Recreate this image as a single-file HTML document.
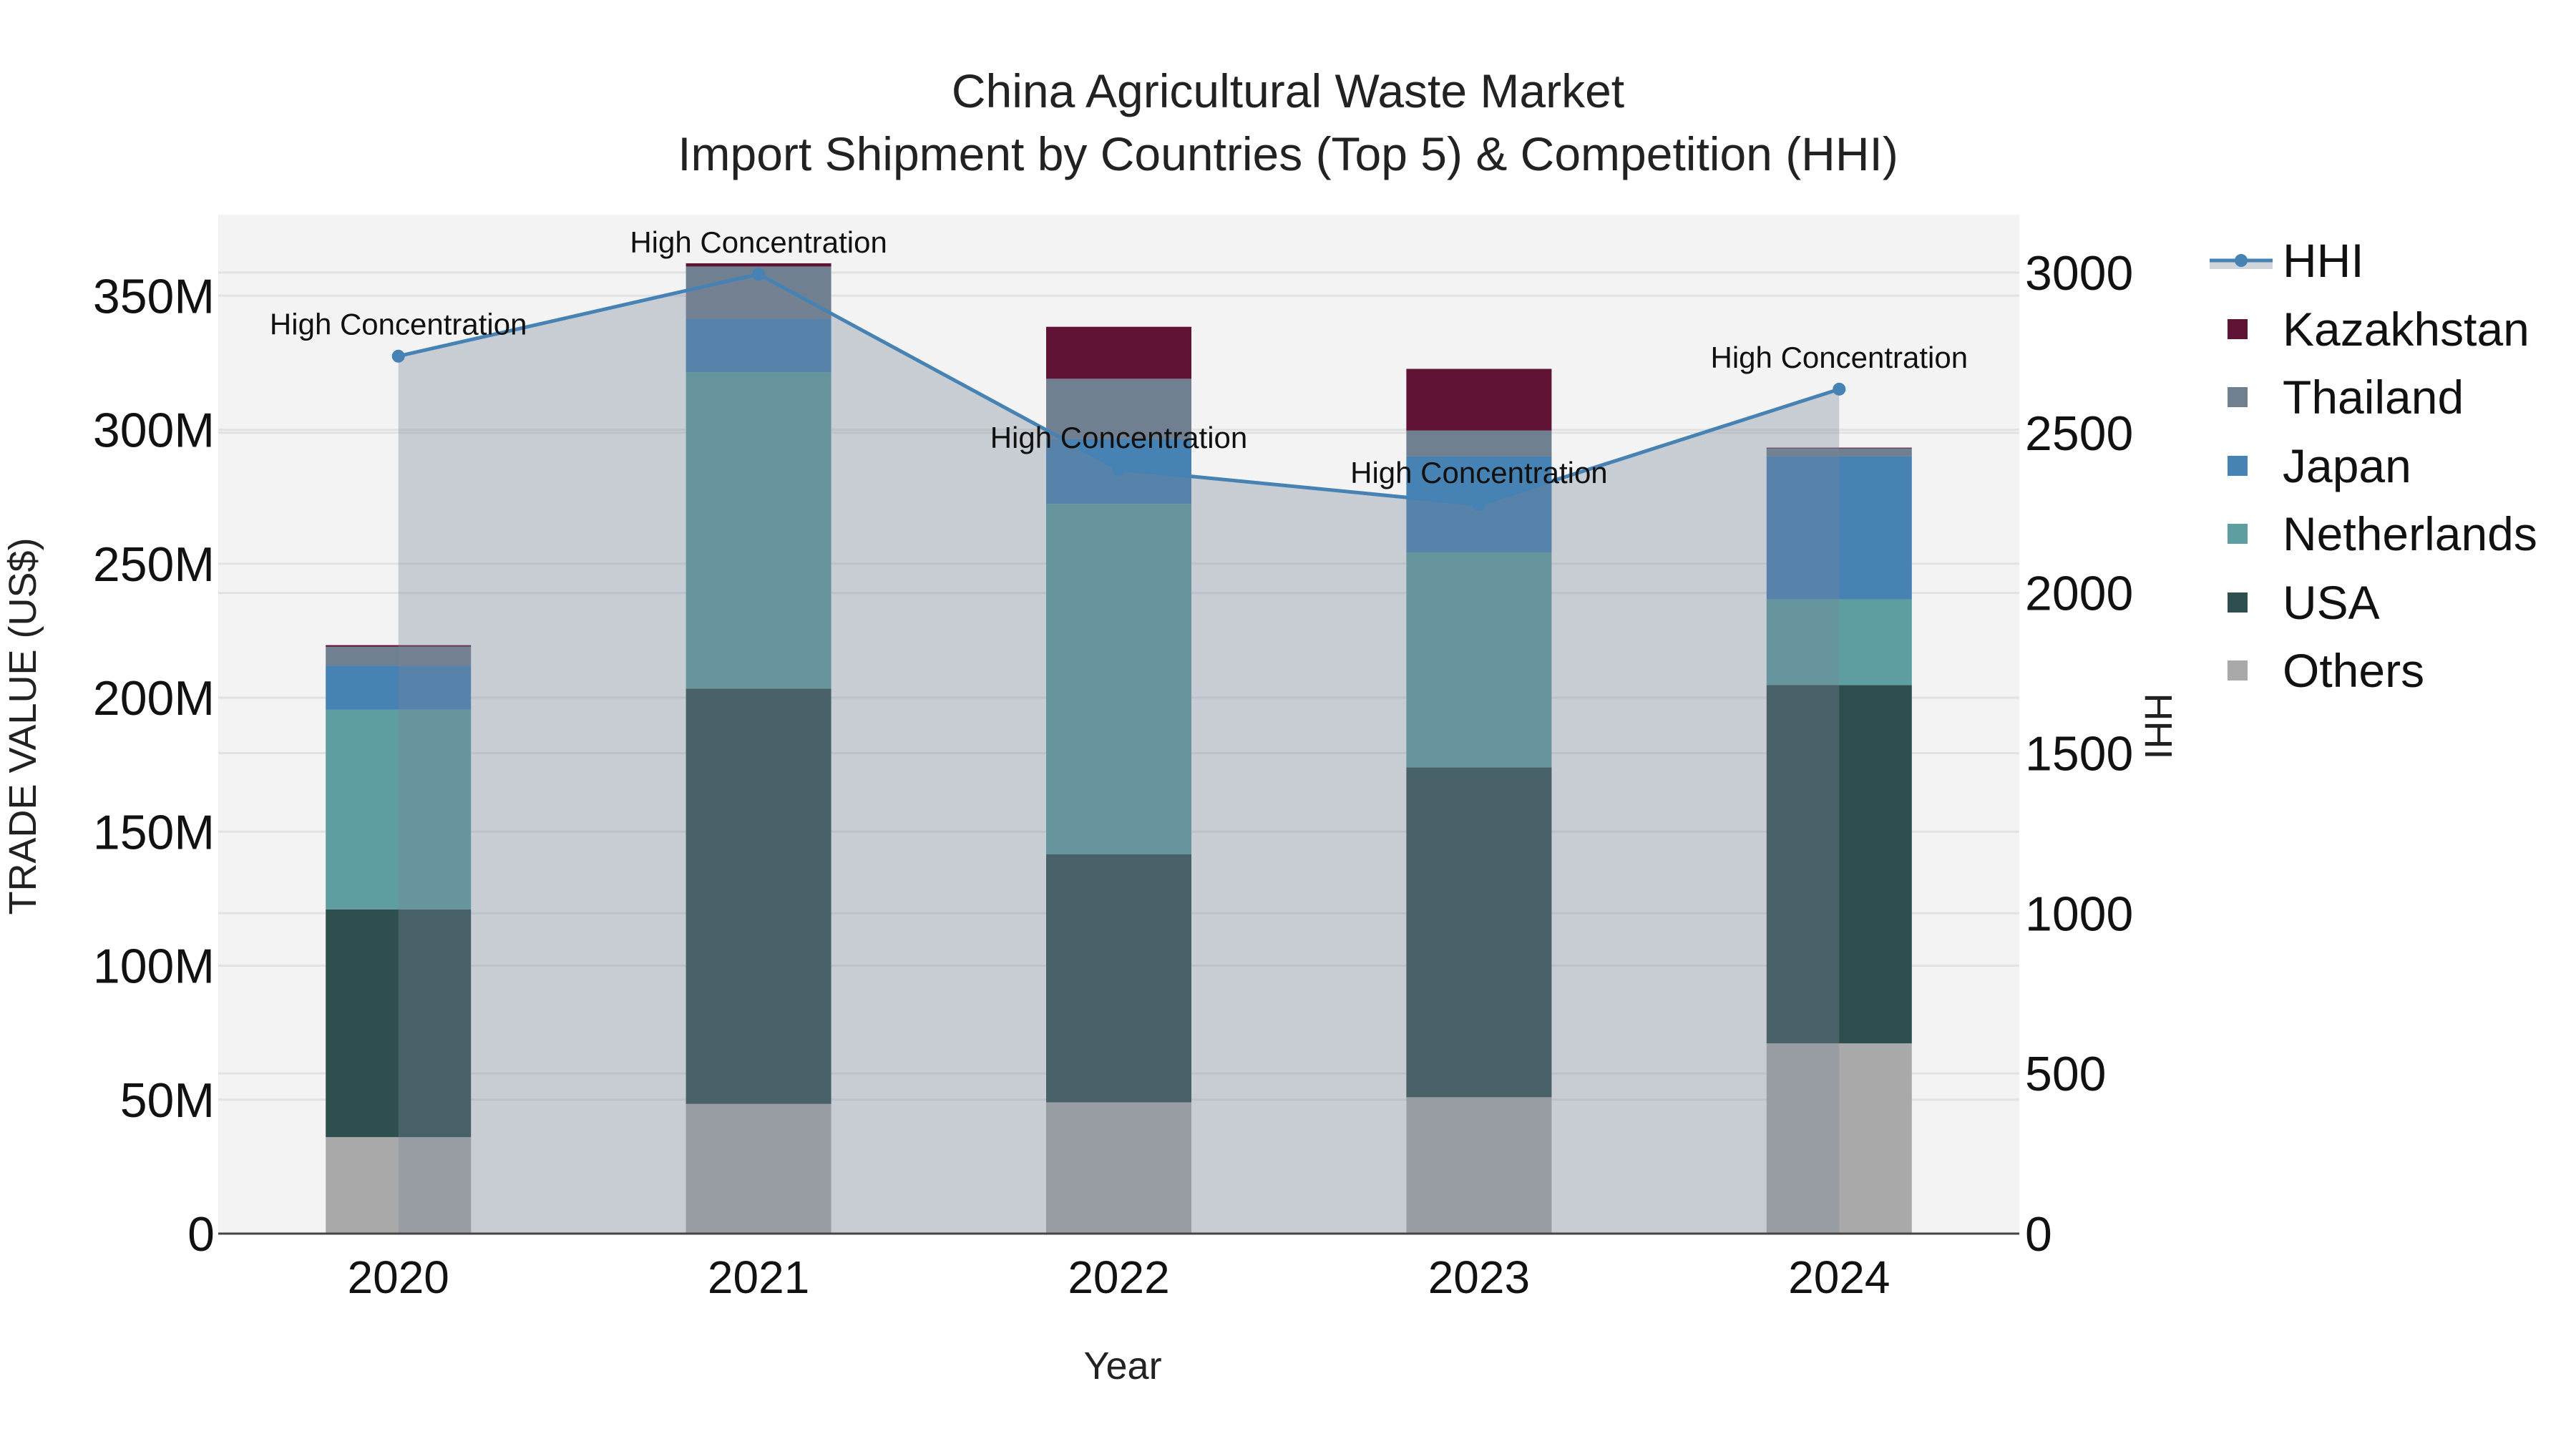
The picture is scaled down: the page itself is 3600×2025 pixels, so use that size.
<!DOCTYPE html>
<html><head><meta charset="utf-8"><style>
html,body{margin:0;padding:0;background:#fff;}
svg{display:block;font-family:"Liberation Sans",Arial,sans-serif;}
</style></head><body>
<svg id="chart" width="3600" height="2025" viewBox="0 0 3600 2025" xmlns="http://www.w3.org/2000/svg">
<rect width="3600" height="2025" fill="#fff"/>
<rect x="305" y="300" width="2517" height="1424" fill="#f3f3f3"/>
<g id="grid"></g>
<g id="bars"></g>
<g id="hhi"></g>
<g id="axes"></g>
<text x="1800" y="150" font-size="66" text-anchor="middle" fill="#222">China Agricultural Waste Market</text>
<text x="1800" y="238" font-size="66" text-anchor="middle" fill="#222">Import Shipment by Countries (Top 5) &amp; Competition (HHI)</text>
<text x="1569" y="1927" font-size="54" text-anchor="middle" fill="#222">Year</text>
<text transform="translate(50,1015) rotate(-90)" font-size="54" text-anchor="middle" fill="#222">TRADE VALUE (US$)</text>
<text transform="translate(2998,1015) rotate(90)" font-size="54" text-anchor="middle" fill="#222">HHI</text>
<g id="legend"></g>
</svg>
<script>
const years = ["2020","2021","2022","2023","2024"];
const seriesNames = ["Others","USA","Netherlands","Japan","Thailand","Kazakhstan"];
const others = [36, 48.4, 49, 50.9, 71];
const usa = [85, 155, 92.6, 123.1, 133.7];
const netherlands = [74.5, 118, 130.7, 80.2, 32];
const japan = [16.5, 20, 24.1, 35.8, 53.3];
const thailand = [7, 19.5, 22.6, 9.7, 3];
const kazakhstan = [0.6, 1.2, 19.4, 23, 0.3];
const hhi = [2739, 2995, 2386, 2276, 2636];
const leftTicks = [0, 50, 100, 150, 200, 250, 300, 350];
const rightTicks = [0, 500, 1000, 1500, 2000, 2500, 3000];

const colors = {"Others":"#a9a9a9","USA":"#2f4f4f","Netherlands":"#5f9ea0","Japan":"#4682b4","Thailand":"#708090","Kazakhstan":"#611336"};
const values = {"Others":others,"USA":usa,"Netherlands":netherlands,"Japan":japan,"Thailand":thailand,"Kazakhstan":kazakhstan};
const NS="http://www.w3.org/2000/svg";
const X0=305, X1=2822, Y0=1724, YT=300;
const band=(X1-X0)/years.length;
function xc(i){return X0+band*(i+0.5);}
function yL(v){return Y0 - v*3.745;}
function yR(h){return Y0 - h*0.4477;}
function mk(tag, attrs, parent){const e=document.createElementNS(NS,tag);for(const k in attrs)e.setAttribute(k,attrs[k]);parent.appendChild(e);return e;}

const grid=document.getElementById('grid');
leftTicks.forEach(t=>{if(t===0)return;const l=mk('line',{x1:X0,x2:X1,y1:yL(t),y2:yL(t),stroke:'#e2e2e2','stroke-width':3},grid);

});
rightTicks.forEach(t=>{if(t===0)return;const l=mk('line',{x1:X0,x2:X1,y1:yR(t),y2:yR(t),stroke:'#e2e2e2','stroke-width':3},grid);

});

const bars=document.getElementById('bars');
const bw=203;
years.forEach((y,i)=>{
  let base=0;
  seriesNames.forEach(s=>{
    const v=values[s][i];
    const r=mk('rect',{x:xc(i)-bw/2,y:yL(base+v),width:bw,height:yL(base)-yL(base+v),fill:colors[s]},bars);
    
    
    base+=v;
  });
});

const hg=document.getElementById('hhi');
let pts=hhi.map((h,i)=>xc(i)+','+yR(h));
const area=mk('polygon',{points:xc(0)+','+Y0+' '+pts.join(' ')+' '+xc(hhi.length-1)+','+Y0,fill:'rgba(120,131,152,0.35)'},hg);


const line=mk('polyline',{points:pts.join(' '),fill:'none',stroke:'#4682b4','stroke-width':5},hg);


hhi.forEach((h,i)=>{
  const c=mk('circle',{cx:xc(i),cy:yR(h),r:9,fill:'#4682b4'},hg);
  
  
  const t=mk('text',{x:xc(i),y:yR(h)-30,'font-size':42,'text-anchor':'middle',fill:'#111'},hg);
  t.textContent='High Concentration';
  
  
});

const ax=document.getElementById('axes');
const zl=mk('line',{x1:X0,x2:X1,y1:Y0,y2:Y0,stroke:'#444','stroke-width':3},ax);


leftTicks.forEach(t=>{const e=mk('text',{x:300,y:yL(t)+24,'font-size':68,'text-anchor':'end',fill:'#111'},ax);
e.textContent=t===0?'0':t+'M';

});
rightTicks.forEach(t=>{const e=mk('text',{x:2830,y:yR(t)+24,'font-size':68,'text-anchor':'start',fill:'#111'},ax);
e.textContent=String(t);

});
years.forEach((y,i)=>{const e=mk('text',{x:xc(i),y:1807,'font-size':64,'text-anchor':'middle',fill:'#111'},ax);
e.textContent=y;

});

const lg=document.getElementById('legend');
const rows=[["HHI",364],["Kazakhstan",460],["Thailand",555],["Japan",651],["Netherlands",746],["USA",842],["Others",937]];
rows.forEach(([n,y])=>{
  const g=mk('g',{},lg);
  
  
  if(n==='HHI'){
    mk('rect',{x:3088,y:y,width:88,height:12,fill:'rgba(120,131,152,0.35)'},g);
    mk('line',{x1:3088,x2:3176,y1:y,y2:y,stroke:'#4682b4','stroke-width':5},g);
    mk('circle',{cx:3132,cy:y,r:9,fill:'#4682b4'},g);
  } else {
    mk('rect',{x:3113,y:y-14,width:28,height:28,fill:colors[n]},g);
  }
  const t=mk('text',{x:3190,y:y+23,'font-size':66,fill:'#111'},g);
  t.textContent=n;
});
</script>
</body></html>
